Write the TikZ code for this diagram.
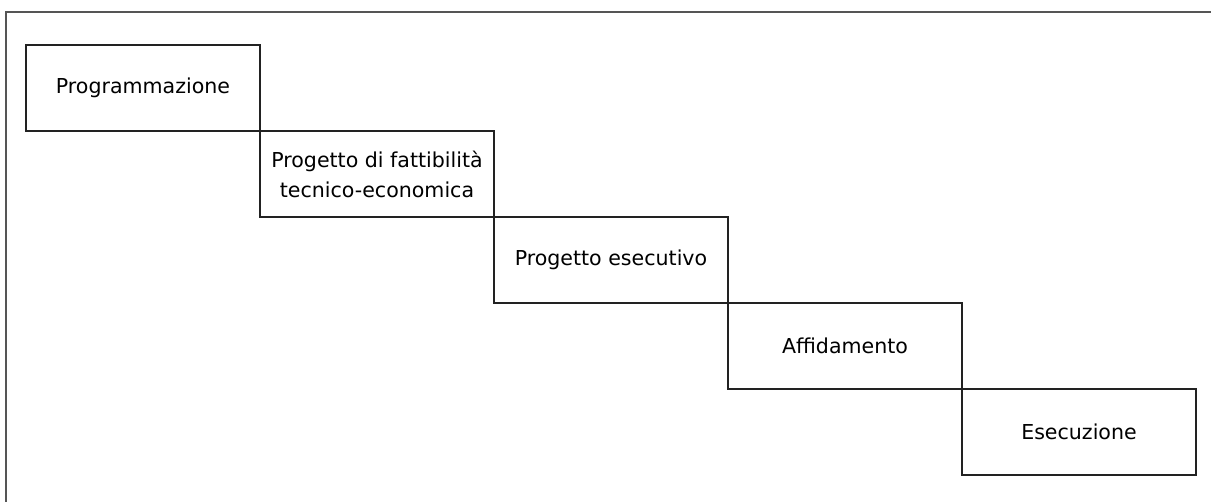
\documentclass[tikz,border=0pt]{standalone}
\usepackage{fontspec}
\setmainfont{DejaVu Sans}
\usetikzlibrary{positioning}
\definecolor{phFrame}{HTML}{555555}
\definecolor{phLine}{HTML}{222222}
\tikzset{
  phase/.style={
    draw=phLine, line width=1.6pt, minimum width=4.68cm, minimum height=1.72cm,
    font=\fontsize{11.7}{17}\selectfont, align=center, inner sep=0pt,
    outer sep=0pt, anchor=north west
  },
  frameline/.style={draw=phFrame, line width=0.8pt}
}
\begin{document}
\begin{tikzpicture}
  \useasboundingbox (0,0) rectangle (24.22,-10.04);
  % outer frame (only top and left edges are visible)
  \coordinate (fr) at (0.12,-0.24);
  \draw[frameline] (fr -| 24.22,0) -- (fr) -- (fr |- 0,-10.04);
  % phases, each hanging off the corner of the one before
  \node[phase] (prog) at (0.52,-0.90) {Programmazione};
  \node[phase, at=(prog.south east)] (pfte) {Progetto di fattibilità\\tecnico-economica};
  \node[phase, at=(pfte.south east)] (pese) {Progetto esecutivo};
  \node[phase, at=(pese.south east)] (affi) {Affidamento};
  \node[phase, at=(affi.south east)] (esec) {Esecuzione};
\end{tikzpicture}
\end{document}
